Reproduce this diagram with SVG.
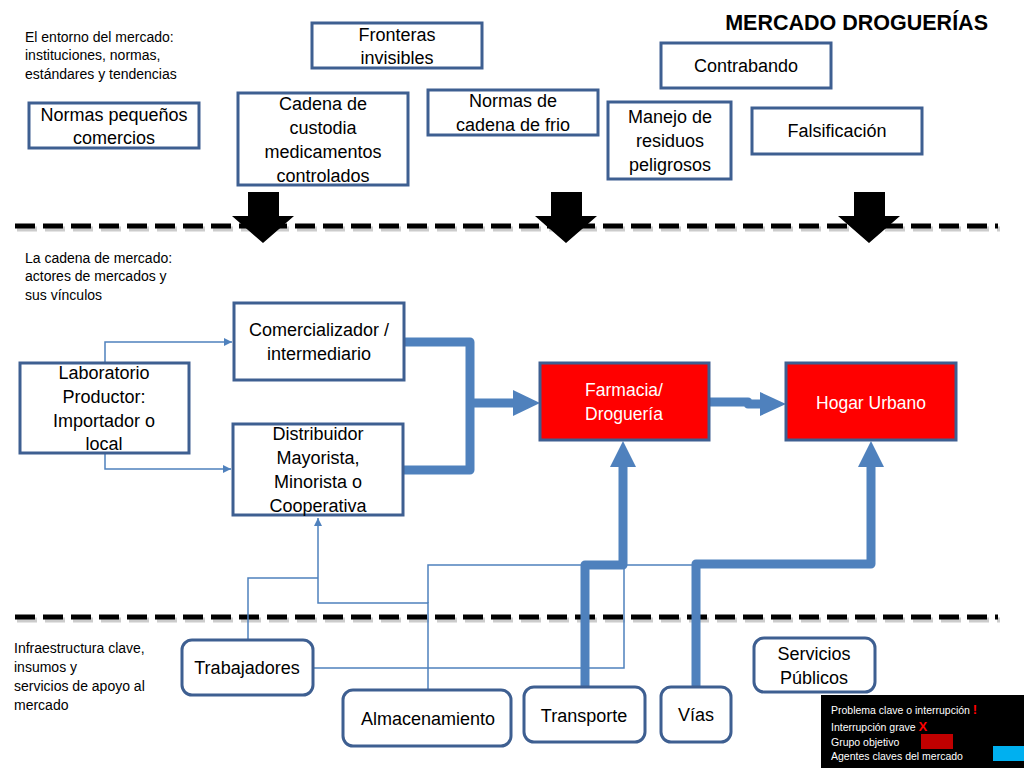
<svg xmlns="http://www.w3.org/2000/svg" width="1024" height="768" viewBox="0 0 1024 768">
<defs>
<style>
.box{fill:#fff;stroke:#3E5F91;stroke-width:3}
.red{fill:#FF0000;stroke:#3E5F91;stroke-width:3}
.t{font-family:"Liberation Sans",Arial,sans-serif;font-size:18px;fill:#000;text-anchor:middle}
.tw{font-family:"Liberation Sans",Arial,sans-serif;font-size:17.5px;fill:#fff;text-anchor:middle}
.side{font-family:"Liberation Sans",Arial,sans-serif;font-size:14px;fill:#000}
.leg{font-family:"Liberation Sans",Arial,sans-serif;font-size:10.5px;fill:#fff}
.thin{fill:none;stroke:#4F81BD;stroke-width:1.5}
.thick{fill:none;stroke:#4F81BD;stroke-width:9;stroke-linejoin:round}
.dash{fill:none;stroke:#000;stroke-width:5;stroke-dasharray:20 8}
.dashs{fill:none;stroke:#999;stroke-width:5;stroke-dasharray:20 8;opacity:0.5}
</style>
<marker id="ah" viewBox="0 0 10 10" refX="10" refY="5" markerWidth="8" markerHeight="8" markerUnits="userSpaceOnUse" orient="auto">
<path d="M0,0 L10,5 L0,10 z" fill="#4F81BD"/>
</marker>
</defs>
<rect width="1024" height="768" fill="#fff"/>

<text x="988" y="30" font-family="Liberation Sans,Arial,sans-serif" font-size="21.5" font-weight="bold" text-anchor="end">MERCADO DROGUERÍAS</text>

<g id="side-labels">
<text class="side" x="25" y="42">El entorno del mercado:</text>
<text class="side" x="25" y="60">instituciones, normas,</text>
<text class="side" x="25" y="79">estándares y tendencias</text>
<text class="side" x="25" y="263">La cadena de mercado:</text>
<text class="side" x="25" y="281">actores de mercados y</text>
<text class="side" x="25" y="300">sus vínculos</text>
<text class="side" x="14" y="653">Infraestructura clave,</text>
<text class="side" x="14" y="672">insumos y</text>
<text class="side" x="14" y="691">servicios de apoyo al</text>
<text class="side" x="14" y="710">mercado</text>
</g>

<g id="dividers">
<line class="dashs" x1="17" y1="229" x2="1000" y2="229"/>
<line class="dash" x1="15" y1="226" x2="998" y2="226"/>
<line class="dashs" x1="17" y1="620" x2="1000" y2="620"/>
<line class="dash" x1="15" y1="617" x2="998" y2="617"/>
</g>

<g id="big-arrows" fill="#000">
<polygon points="248,192 279,192 279,216 294,216 263,243 232,216 248,216"/>
<polygon points="551,192 582,192 582,216 597,216 566,243 535,216 551,216"/>
<polygon points="854,192 885,192 885,216 900,216 869,243 838,216 854,216"/>
</g>

<g id="connectors">
<path class="thin" d="M105,363 V342 H232" marker-end="url(#ah)"/>
<path class="thin" d="M105,453 V469 H231" marker-end="url(#ah)"/>
<path class="thin" d="M248,640 V578 H318"/>
<path class="thin" d="M428,690 V603 H318 V518" marker-end="url(#ah)"/>
<path class="thin" d="M313,668 H624 V565"/>
<path class="thin" d="M428,603 V565 H696"/>
<path class="thick" d="M404,342 H470 V470 H403"/>
<path class="thick" d="M470,403 H515"/>
<polygon points="513,390 540,403 513,416" fill="#4F81BD"/>
<path class="thick" d="M709,402 H748 V404 H762"/>
<polygon points="760,392 786,404 760,416" fill="#4F81BD"/>
<path class="thick" d="M585,686 V565 H623 V465"/>
<polygon points="610,467 623,441 636,467" fill="#4F81BD"/>
<path class="thick" d="M696,686 V564 H871 V465"/>
<polygon points="858,467 871,441 884,467" fill="#4F81BD"/>
</g>

<g id="fronteras"><rect class="box" x="312" y="23" width="170" height="45"/><text class="t" x="397" y="41">Fronteras</text><text class="t" x="397" y="64">invisibles</text></g>
<g id="contrabando"><rect class="box" x="661" y="43" width="170" height="45"/><text class="t" x="746" y="72">Contrabando</text></g>
<g id="normas-pequenos"><rect class="box" x="29" y="103" width="170" height="45"/><text class="t" x="114" y="121">Normas pequeños</text><text class="t" x="114" y="144">comercios</text></g>
<g id="cadena-custodia"><rect class="box" x="238" y="93" width="170" height="92"/><text class="t" x="323" y="110">Cadena de</text><text class="t" x="323" y="134">custodia</text><text class="t" x="323" y="158">medicamentos</text><text class="t" x="323" y="182">controlados</text></g>
<g id="normas-frio"><rect class="box" x="428" y="90" width="170" height="45"/><text class="t" x="513" y="107">Normas de</text><text class="t" x="513" y="131">cadena de frio</text></g>
<g id="manejo-residuos"><rect class="box" x="608" y="102" width="123" height="77"/><text class="t" x="670" y="123">Manejo de</text><text class="t" x="670" y="147">residuos</text><text class="t" x="670" y="171">peligrosos</text></g>
<g id="falsificacion"><rect class="box" x="752" y="108" width="170" height="46"/><text class="t" x="837" y="137">Falsificación</text></g>

<g id="comercializador"><rect class="box" x="234" y="303" width="170" height="77"/><text class="t" x="319" y="336">Comercializador /</text><text class="t" x="319" y="360">intermediario</text></g>
<g id="laboratorio"><rect class="box" x="20" y="363" width="169" height="90"/><text class="t" x="104" y="379">Laboratorio</text><text class="t" x="104" y="403">Productor:</text><text class="t" x="104" y="427">Importador o</text><text class="t" x="104" y="450">local</text></g>
<g id="distribuidor"><rect class="box" x="233" y="424" width="170" height="91"/><text class="t" x="318" y="440">Distribuidor</text><text class="t" x="318" y="464">Mayorista,</text><text class="t" x="318" y="488">Minorista o</text><text class="t" x="318" y="512">Cooperativa</text></g>
<g id="farmacia"><rect class="red" x="540" y="363" width="169" height="77"/><text class="tw" x="624" y="396">Farmacia/</text><text class="tw" x="624" y="420">Droguería</text></g>
<g id="hogar"><rect class="red" x="786" y="363" width="170" height="77"/><text class="tw" x="871" y="409">Hogar Urbano</text></g>

<g id="trabajadores"><rect class="box" x="182" y="640" width="131" height="55" rx="10"/><text class="t" x="247" y="674">Trabajadores</text></g>
<g id="almacenamiento"><rect class="box" x="343" y="690" width="168" height="56" rx="10"/><text class="t" x="428" y="725">Almacenamiento</text></g>
<g id="transporte"><rect class="box" x="524" y="687" width="121" height="55" rx="10"/><text class="t" x="584" y="722">Transporte</text></g>
<g id="vias"><rect class="box" x="661" y="687" width="70" height="55" rx="10"/><text class="t" x="696" y="721">Vías</text></g>
<g id="servicios"><rect class="box" x="754" y="638" width="121" height="54" rx="10"/><text class="t" x="814" y="660">Servicios</text><text class="t" x="814" y="684">Públicos</text></g>

<g id="legend">
<rect x="821" y="695" width="203" height="73" fill="#000"/>
<text class="leg" x="831" y="714">Problema clave o interrupción <tspan fill="#FF0000" font-weight="bold" font-size="13">!</tspan></text>
<text class="leg" x="831" y="731">Interrupción grave <tspan fill="#FF0000" font-weight="bold" font-size="13">X</tspan></text>
<text class="leg" x="831" y="746">Grupo objetivo</text>
<rect x="921" y="734" width="32" height="15" fill="#C00000"/>
<text class="leg" x="831" y="760">Agentes claves del mercado</text>
<rect x="993" y="746" width="31" height="15" fill="#00B0F0"/>
</g>
</svg>
